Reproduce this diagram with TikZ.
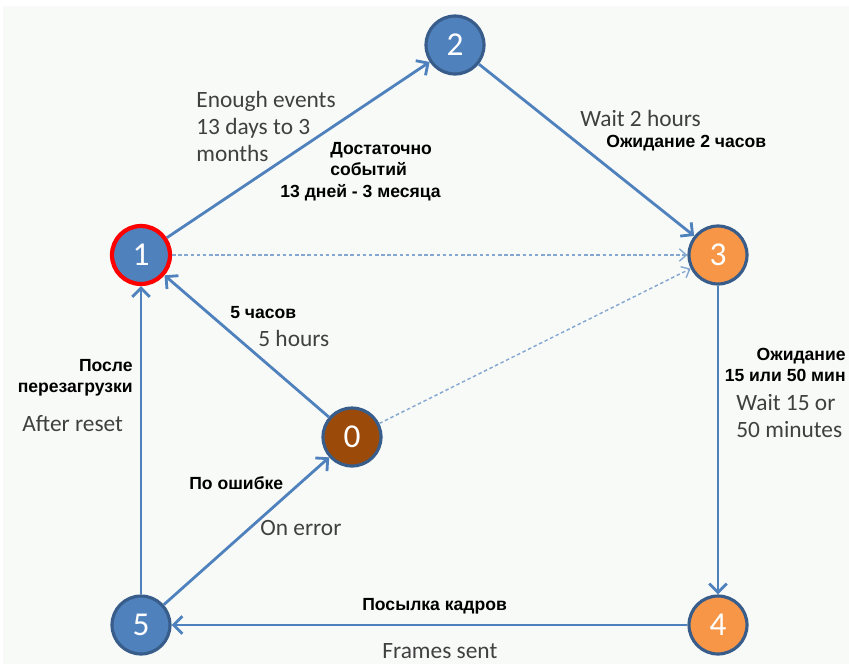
\documentclass[tikz,border=0pt]{standalone}
\usepackage{fontspec}
\setmainfont{Carlito}
\newfontfamily\rufont{Liberation Sans}
\usetikzlibrary{arrows.meta,positioning}
\definecolor{stateblue}{HTML}{4F81BD}
\definecolor{rimblue}{HTML}{385D8A}
\definecolor{stateorange}{HTML}{F79646}
\definecolor{statebrown}{HTML}{9C4A0A}
\definecolor{rimred}{HTML}{FF0000}
\definecolor{labelgray}{HTML}{404040}
\definecolor{pagebg}{HTML}{F8FAF8}

\begin{document}
\begin{tikzpicture}[x=0.02cm, y=-0.02cm,
  state/.style={circle, draw=rimblue, line width=1.8pt, fill=stateblue, minimum size=33pt, inner sep=0pt, text=white, font=\fontsize{19}{19}\selectfont},
  startstate/.style={state, draw=rimred, line width=2.4pt},
  waitstate/.style={state, fill=stateorange},
  errstate/.style={state, fill=statebrown},
  arr/.style={-{Straight Barb[length=5pt,width=10pt,line width=1.6pt]}, line width=1.6pt, draw=stateblue},
  dotarr/.style={-{Straight Barb[length=4pt,width=7pt,line width=0.8pt]}, line width=0.8pt, draw=stateblue!70, dash pattern=on 2pt off 1.5pt},
  en/.style={text=labelgray, font=\fontsize{13.3}{15.3}\selectfont, inner sep=0pt, align=left},
  ru/.style={font=\rufont\bfseries\fontsize{10}{12.2}\selectfont, inner sep=0pt}
]
\fill[white] (0,0) rectangle (849,664);
\fill[pagebg] (3,6) rectangle (849,664);
\useasboundingbox (0,0) rectangle (849,664);

\node[state] (s2) at (455,45) {2};
\node[startstate] (s1) at (141,255) {1};
\node[waitstate] (s3) at (718,255) {3};
\node[errstate] (s0) at (352,437) {0};
\node[state] (s5) at (141,625) {5};
\node[waitstate] (s4) at (718,625) {4};

\draw[dotarr] (s1) -- (s3);
\draw[dotarr] (s0) -- (s3);
\draw[arr] (s1) -- (s2);
\draw[arr] (s2) -- (s3);
\draw[arr] (s3) -- (s4);
\draw[arr] (s4) -- (s5);
\draw[arr] (s5) -- (s1);
\draw[arr] (s5) -- (s0);
\draw[arr] (s0) -- (s1);

\node[en, anchor=north west] (enough) at (196,91) {Enough events\\13 days to 3\\months};
\node[ru, anchor=north west, align=left] (dost) at (330,142) {Достаточно\\событий};
\node[ru, anchor=west] (dni) at (280,193) {13 дней - 3 месяца};
\node[en, anchor=west] (wait2) at (580,118) {Wait 2 hours};
\node[ru, anchor=west] (ozh2) at (606,143) {Ожидание 2 часов};
\node[ru, anchor=west] (chas5) at (230,313) {5 часов};
\node[en, anchor=west] (hours5) at (258,338) {5 hours};
\node[ru, anchor=east, align=right] (posle) at (133,378) {После\\перезагрузки};
\node[en, anchor=west] (reset) at (22,424) {After reset};
\node[ru, anchor=west] (oshibka) at (189,483) {По ошибке};
\node[en, anchor=west] (onerr) at (260,528) {On error};
\node[ru, anchor=east, align=right] (ozh15) at (846,365) {Ожидание\\15 или 50 мин};
\node[en, anchor=west] (wait15) at (736,416) {Wait 15 or\\50 minutes};
\node[ru, anchor=west] (kadry) at (362,606) {Посылка кадров};
\node[en, anchor=west] (frames) at (382,651) {Frames sent};
\end{tikzpicture}
\end{document}
